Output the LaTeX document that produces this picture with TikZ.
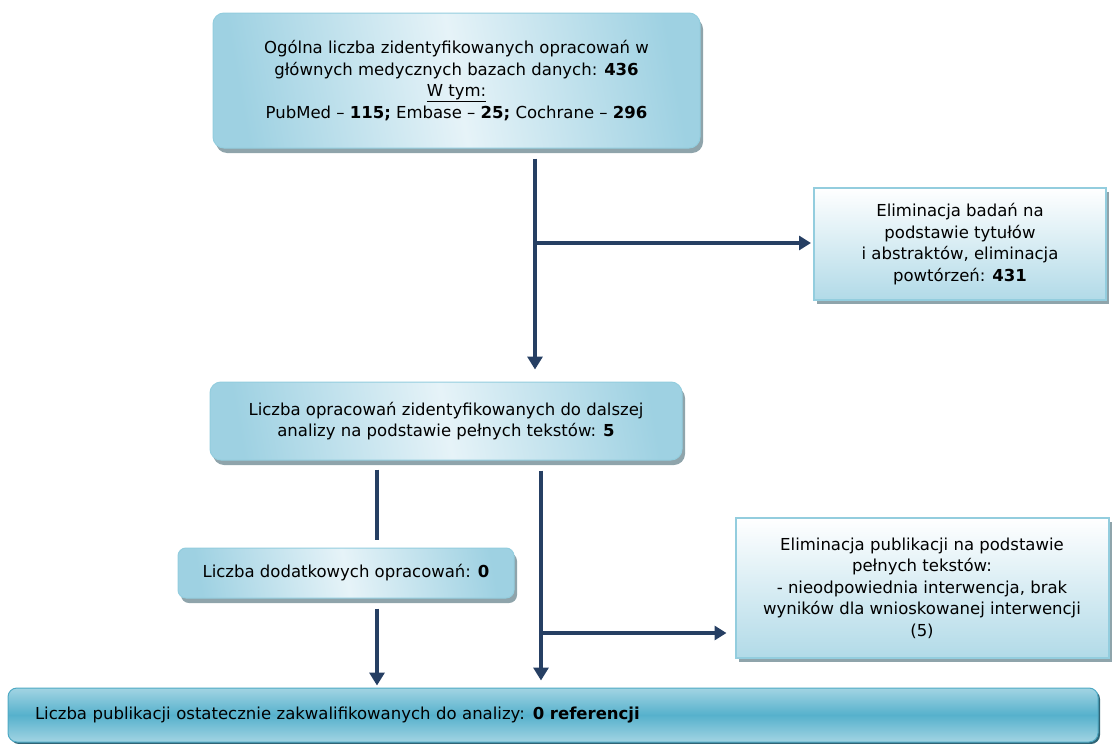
\documentclass[tikz,border=0pt]{standalone}
\usepackage{fontspec}
\setmainfont{DejaVu Sans}
\usetikzlibrary{arrows.meta,shadows}
\definecolor{navy}{HTML}{263F63}
\definecolor{edgeblue}{HTML}{93CDDE}
\definecolor{shadowgray}{HTML}{8FA4AB}
\definecolor{darkend}{HTML}{9ED1E2}
\definecolor{lightmid}{HTML}{E6F3F8}
\definecolor{botlight}{HTML}{A2D4E3}
\definecolor{botdark}{HTML}{56B1CC}
\definecolor{botedge}{HTML}{4FA9C4}
\tikzset{
  roundbox/.style={draw=edgeblue, line width=1pt, rounded corners=11pt,
    left color=darkend, right color=darkend, middle color=lightmid, shading angle=100,
    align=center, inner sep=0pt,
    drop shadow={shadow xshift=3pt, shadow yshift=-5pt, fill=shadowgray, opacity=1}},
  sqbox/.style={draw=edgeblue, line width=2pt, top color=white, bottom color=darkend!80,
    align=center, inner sep=0pt,
    drop shadow={shadow xshift=3pt, shadow yshift=-4pt, fill=shadowgray, opacity=1}},
  botbox/.style={draw=botedge, line width=1pt, rounded corners=9pt,
    top color=botlight, bottom color=botlight, middle color=botdark,
    align=left, inner sep=0pt,
    drop shadow={shadow xshift=2pt, shadow yshift=-2pt, fill=botedge!60!black, opacity=1}},
  conn/.style={draw=navy, line width=3.5pt},
  arr/.style={conn, -{Triangle[length=13pt,width=15pt]}},
  harr/.style={conn, -{Triangle[length=12pt,width=14pt]}},
  txt/.style={font=\fontsize{16.5}{21.5}\selectfont}
}
\begin{document}
\begin{tikzpicture}[x=1pt,y=-1pt]
\useasboundingbox (0,0) rectangle (1112,744);
\node[roundbox, txt, minimum width=487pt, minimum height=135pt] (top) at (456.5,80.5)
  {Ogólna liczba zidentyfikowanych opracowań w\\
   głównych medycznych bazach danych: \textbf{436}\\
   \underline{W tym:}\\
   PubMed – \textbf{115;} Embase – \textbf{25;} Cochrane – \textbf{296}};
\node[sqbox, txt, minimum width=292pt, minimum height=112pt] (el1) at (960,244)
  {Eliminacja badań na\\ podstawie tytułów\\ i abstraktów, eliminacja\\ powtórzeń: \textbf{431}};
\node[roundbox, txt, minimum width=472pt, minimum height=78pt] (mid) at (446,421)
  {Liczba opracowań zidentyfikowanych do dalszej\\ analizy na podstawie pełnych tekstów: \textbf{5}};
\node[roundbox, txt, rounded corners=8pt, minimum width=336pt, minimum height=50pt] (small) at (346,573)
  {Liczba dodatkowych opracowań: \textbf{0}};
\node[sqbox, txt, minimum width=373pt, minimum height=140pt] (el2) at (922,588)
  {Eliminacja publikacji na podstawie\\ pełnych tekstów:\\ - nieodpowiednia interwencja, brak\\ wyników dla wnioskowanej interwencji\\ (5)};
\node[botbox, txt, minimum width=1090pt, minimum height=54pt, text width=1036pt] (bot) at (553,715)
  {Liczba publikacji ostatecznie zakwalifikowanych do analizy: \textbf{0 referencji}};
\coordinate (c1) at (535,243);
\coordinate (c2) at (377,500);
\coordinate (c3) at (541,633);
\draw[arr, shorten <=10pt, shorten >=12pt] (top.south -| c1) -- (mid.north -| c1);
\draw[harr, shorten >=2pt] (c1) -- (el1.west |- c1);
\draw[conn, shorten <=9pt, shorten >=8pt] (mid.south -| c2) -- (small.north -| c2);
\draw[arr, shorten <=10pt, shorten >=2pt] (small.south -| c2) -- (bot.north -| c2);
\draw[arr, shorten <=10pt, shorten >=7pt] (mid.south -| c3) -- (bot.north -| c3);
\draw[harr, shorten >=8pt] (c3) -- (el2.west |- c3);
\end{tikzpicture}
\end{document}
